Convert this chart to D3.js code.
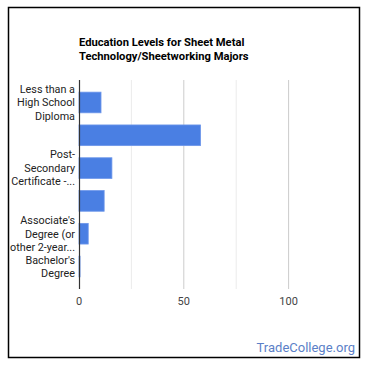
<!DOCTYPE html>
<html>
<head>
<meta charset="utf-8">
<script src="https://cdn.jsdelivr.net/npm/d3@7"></script>
<style>
  body { margin: 0; background: #fff; }
  svg { display: block; font-family: Roboto, Arial, sans-serif; }
</style>
</head>
<body>
<div id="chart"></div>
<script>
// Chart data
const categories = [
    ['Less than a', 'High School', 'Diploma'],
    ['High School Diploma'],
    ['Post-', 'Secondary', 'Certificate -...'],
    ['Some College Courses'],
    ["Associate's", 'Degree (or', 'other 2-year...'],
    ["Bachelor's", 'Degree']
];
const showLabel = [true, false, true, false, true, true];
const values = [10.5, 58, 15.7, 12, 4.4, 0.5];
const xTicks = [0, 50, 100];
const gridTicks = [25, 50, 75, 100];
const titleLines = ['Education Levels for Sheet Metal', 'Technology/Sheetworking Majors'];

const width = 370, height = 370;
const plot = { left: 79, right: 341, top: 80, bottom: 289 };

const svg = d3.select('#chart').append('svg')
    .attr('width', width)
    .attr('height', height);

// Outer frame
svg.append('rect')
    .attr('x', 8.5).attr('y', 7.5)
    .attr('width', 351).attr('height', 350)
    .attr('fill', '#fff')
    .attr('stroke', '#000')
    .attr('stroke-width', 1.5);

// Title
svg.append('g').selectAll('text')
    .data(titleLines)
    .enter()
    .append('text')
    .attr('x', plot.left)
    .attr('y', (d, i) => 46 + i * 13.5)
    .attr('font-size', 11.2)
    .attr('font-weight', 'bold')
    .attr('fill', '#000')
    .text(d => d);

const x = d3.scaleLinear()
    .domain([0, 125])
    .range([plot.left, plot.right]);

const y = d3.scaleBand()
    .domain(d3.range(categories.length))
    .range([plot.top, plot.bottom])
    .padding(0.37);

// Gridlines
svg.append('g').selectAll('line')
    .data(gridTicks)
    .enter()
    .append('line')
    .attr('x1', d => x(d)).attr('x2', d => x(d))
    .attr('y1', plot.top).attr('y2', plot.bottom)
    .attr('stroke', d => d % 50 === 0 ? '#cccccc' : '#ebebeb')
    .attr('stroke-width', 1);

// Bars
svg.append('g').selectAll('rect')
    .data(values)
    .enter()
    .append('rect')
    .attr('x', x(0))
    .attr('y', (d, i) => y(i))
    .attr('width', d => x(d) - x(0))
    .attr('height', y.bandwidth())
    .attr('fill', '#4a7fe3')
    .attr('stroke', '#6d97ea')
    .attr('stroke-width', 0.8);

// Baseline
svg.append('line')
    .attr('x1', x(0) + 0.5).attr('x2', x(0) + 0.5)
    .attr('y1', plot.top).attr('y2', plot.bottom)
    .attr('stroke', '#333')
    .attr('stroke-width', 1.2);

// X tick labels
svg.append('g').selectAll('text')
    .data(xTicks)
    .enter()
    .append('text')
    .attr('x', d => x(d))
    .attr('y', 305)
    .attr('text-anchor', 'middle')
    .attr('font-size', 11)
    .attr('fill', '#444')
    .text(d => d);

// Category labels (wrapped)
const labels = svg.append('g').selectAll('text')
    .data(categories)
    .enter()
    .filter((d, i) => showLabel[i])
    .append('text')
    .attr('text-anchor', 'end')
    .attr('font-size', 10.8)
    .attr('fill', '#222');

labels.each(function(lines) {
    const i = categories.indexOf(lines);
    const cy = y(i) + y.bandwidth() / 2;
    const lh = 13.6;
    const top = cy - (lines.length - 1) * lh / 2;
    d3.select(this).selectAll('tspan')
        .data(lines)
        .enter()
        .append('tspan')
        .attr('x', 75)
        .attr('y', (d, j) => top + j * lh + 3.8)
        .text(d => d);
});

// Watermark
svg.append('text')
    .attr('x', 355)
    .attr('y', 352)
    .attr('text-anchor', 'end')
    .attr('font-size', 13)
    .attr('fill', '#5b7fc7')
    .text('TradeCollege.org');
</script>
</body>
</html>
